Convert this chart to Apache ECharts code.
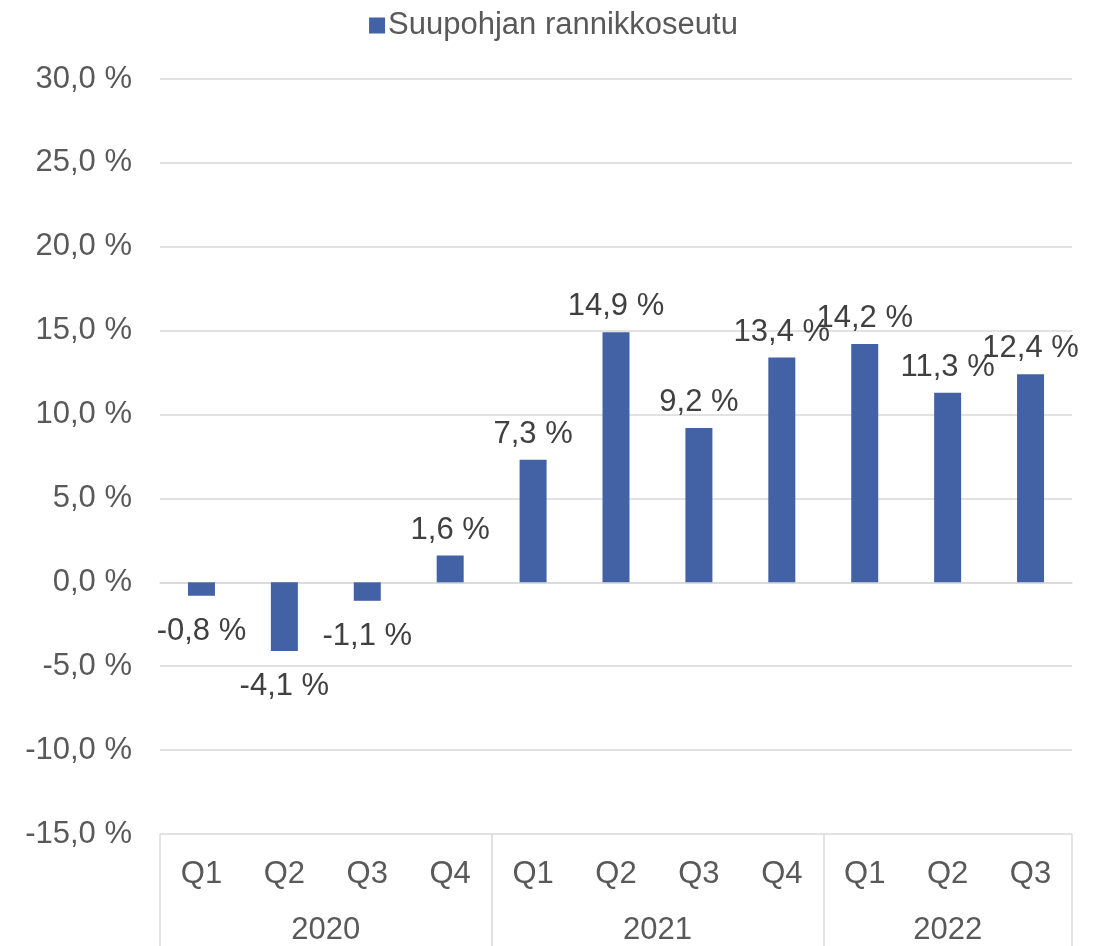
<!DOCTYPE html>
<html>
<head>
<meta charset="utf-8">
<script src="https://cdn.jsdelivr.net/npm/echarts@6/dist/echarts.min.js"></script>
<style>
html,body{margin:0;padding:0;background:#fff;}
#chart{width:1107px;height:946px;}
</style>
</head>
<body>
<div id="chart"></div>
<script>
const quarters = ['Q1','Q2','Q3','Q4','Q1','Q2','Q3','Q4','Q1','Q2','Q3'];
const years = ['2020','2021','2022'];
const quartersPerYear = [4,4,3];
const values = [-0.8,-4.1,-1.1,1.6,7.3,14.9,9.2,13.4,14.2,11.3,12.4];
const seriesName = 'Suupohjan rannikkoseutu';

const FONT = "'Liberation Sans', Arial, sans-serif";
const fmt = v => v.toFixed(1).replace('.', ',') + ' %';

// group boundaries and centres on the 0..N index scale
const bounds = [0];
quartersPerYear.forEach(n => bounds.push(bounds[bounds.length-1] + n));
const centres = quartersPerYear.map((n,i) => bounds[i] + n/2);

const chart = echarts.init(document.getElementById('chart'));
chart.setOption({
  animation: false,
  textStyle: {fontFamily: FONT},
  legend: {
    data: [seriesName],
    top: 5,
    left: 'center',
    itemWidth: 16,
    itemHeight: 16,
    itemGap: 10,
    icon: 'rect',
    textStyle: {fontFamily: FONT, fontSize: 31, color: '#595959', padding: [0,0,0,-2]}
  },
  grid: {left: 160, right: 35, top: 79, bottom: 110, containLabel: false},
  xAxis: [
    {
      type: 'category',
      data: quarters,
      position: 'bottom',
      axisLine: {show: true, lineStyle: {color: '#d9d9d9', width: 1.5}},
      axisTick: {show: false},
      axisLabel: {interval: 0, margin: 25, fontFamily: FONT, fontSize: 31, color: '#595959'},
      splitLine: {show: false}
    },
    {
      type: 'value',
      min: 0,
      max: quarters.length,
      position: 'bottom',
      axisLine: {show: false},
      splitLine: {show: false},
      axisTick: {show: true, customValues: bounds, length: 112, lineStyle: {color: '#d9d9d9', width: 1.5}},
      axisLabel: {
        show: true,
        customValues: centres,
        margin: 81,
        fontFamily: FONT, fontSize: 31, color: '#595959',
        formatter: v => { const i = centres.indexOf(v); return i >= 0 ? years[i] : ''; }
      }
    }
  ],
  yAxis: {
    type: 'value',
    min: -15,
    max: 30,
    interval: 5,
    axisLine: {show: false},
    axisTick: {show: false},
    axisLabel: {margin: 28, fontFamily: FONT, fontSize: 31, color: '#595959', formatter: fmt},
    splitLine: {lineStyle: {color: '#d9d9d9', width: 1.5}}
  },
  series: [{
    name: seriesName,
    type: 'bar',
    xAxisIndex: 0,
    barWidth: 27,
    itemStyle: {color: '#4361A5'},
    data: values.map(v => ({
      value: v,
      label: {position: v < 0 ? 'bottom' : 'top', distance: v < 0 ? 20 : 10}
    })),
    label: {
      show: true,
      fontFamily: FONT,
      fontSize: 31,
      color: '#404040',
      formatter: p => fmt(p.value)
    }
  }]
});
</script>
</body>
</html>
